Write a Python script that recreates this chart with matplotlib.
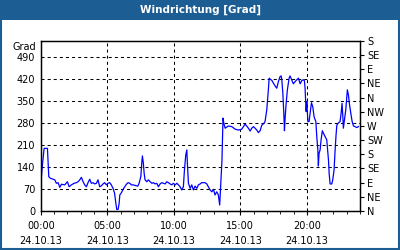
import numpy as np
import matplotlib.pyplot as plt
from matplotlib.patches import Rectangle
from matplotlib.ticker import MultipleLocator

# Messzeit in Stunden (24.10.13) und Windrichtung in Grad
hours = [0.0, 0.12, 0.25, 0.5, 0.6, 0.72, 0.92, 1.05, 1.17, 1.3, 1.43, 1.55, 1.8, 2.0,
         2.13, 2.3, 2.5, 2.68, 2.8, 2.93, 3.05, 3.18, 3.3, 3.43, 3.55, 3.68, 3.8, 3.93,
         4.05, 4.18, 4.3, 4.43, 4.55, 4.68, 4.8, 4.93, 5.05, 5.18, 5.3, 5.43, 5.55, 5.63,
         5.71, 5.81, 5.89, 5.94, 6.06, 6.19, 6.31, 6.44, 6.56, 6.69, 6.81, 6.94,
         7.29, 7.39, 7.52, 7.59, 7.64, 7.71, 7.77, 7.84, 7.97, 8.09, 8.22, 8.35, 8.47,
         8.59, 8.72, 8.84, 8.97, 9.1, 9.22, 9.35, 9.47, 9.59, 9.72, 9.85, 9.97, 10.1,
         10.23, 10.35, 10.47, 10.6, 10.72, 10.8, 10.9, 10.98, 11.02, 11.1, 11.23, 11.35,
         11.47, 11.6, 11.73, 11.85, 11.98, 12.1, 12.35, 12.48, 12.6, 12.73, 12.86, 12.98,
         13.1, 13.23, 13.35, 13.45, 13.62, 13.7, 13.76, 13.86, 14.1, 14.36, 14.61, 14.86,
         15.11, 15.36, 15.61, 15.74, 15.86, 15.99, 16.11, 16.24, 16.36, 16.49, 16.62,
         16.74, 16.86, 16.99, 17.11, 17.17, 17.24, 17.37, 17.49, 17.62, 17.74, 17.87,
         17.99, 18.07, 18.12, 18.2, 18.27, 18.32, 18.37, 18.44, 18.54, 18.67, 18.74,
         18.86, 18.99, 19.12, 19.25, 19.37, 19.5, 19.62, 19.74, 19.82, 19.87, 19.95,
         20.0, 20.08, 20.17, 20.25, 20.35, 20.45, 20.55, 20.68, 20.75, 20.83, 20.87,
         20.92, 21.0, 21.08, 21.17, 21.25, 21.38, 21.5, 21.58, 21.63, 21.68, 21.75,
         21.88, 21.95, 22.05, 22.13, 22.2, 22.26, 22.38, 22.5, 22.58, 22.65, 22.71,
         22.75, 22.83, 22.93, 23.01, 23.05, 23.13, 23.2, 23.31, 23.41, 23.51, 23.63,
         23.76, 23.88]
grad = [86, 146, 199, 199, 109, 104, 101, 99, 88, 90, 75, 85, 83, 93,
        77, 83, 88, 90, 93, 99, 107, 93, 83, 77, 90, 101, 88, 90,
        86, 88, 99, 77, 80, 86, 90, 83, 88, 90, 83, 72, 56, 29,
        5, 5, 24, 51, 58, 69, 77, 85, 90, 88, 83, 83,
        79, 88, 109, 152, 175, 152, 120, 99, 93, 99, 93, 88, 90,
        86, 88, 77, 86, 90, 88, 86, 93, 90, 86, 83, 88, 83,
        88, 83, 77, 67, 77, 130, 178, 194, 152, 88, 72, 83,
        67, 79, 72, 83, 86, 90, 90, 86, 77, 67, 61, 69,
        51, 61, 51, 19, 160, 295, 279, 263, 270, 268, 260, 257,
        260, 276, 263, 254, 263, 268, 263, 257, 249, 255, 273,
        277, 284, 321, 385, 422, 419, 415, 406, 397, 390, 412,
        427, 429, 417, 374, 311, 255, 295, 338, 385, 422, 429,
        417, 404, 411, 417, 422, 404, 414, 417, 414, 390, 316,
        348, 284, 284, 310, 344, 331, 299, 284, 236, 194, 143,
        183, 194, 228, 255, 247, 236, 226, 189, 162, 120, 86,
        86, 99, 130, 194, 242, 273, 280, 284, 310, 342, 299,
        263, 289, 321, 364, 385, 369, 342, 310, 284, 270, 268,
        265, 268]

# Achsenbeschriftungen
x_ticks = [0, 5, 10, 15, 20]
x_labels = ['00:00\n24.10.13', '05:00\n24.10.13', '10:00\n24.10.13',
            '15:00\n24.10.13', '20:00\n24.10.13']
y_ticks = [0, 70, 140, 210, 280, 350, 420, 490]
dir_ticks = [0, 45, 90, 135, 180, 225, 270, 315, 360, 405, 450, 495, 540]
dir_labels = ['N', 'NE', 'E', 'SE', 'S', 'SW', 'W', 'NW', 'N', 'NE', 'E', 'SE', 'S']

blue = '#1c5e94'
plt.rcParams['font.size'] = 7
plt.rcParams['lines.scale_dashes'] = False

fig = plt.figure(figsize=(4, 2.5), dpi=100)
fig.patch.set_facecolor('white')

# Titelleiste und Rahmen
fig.add_artist(Rectangle((0, 0.92), 1, 0.08, transform=fig.transFigure,
                         facecolor=blue, edgecolor='none'))
fig.add_artist(Rectangle((0.0025, 0.004), 0.995, 0.992, transform=fig.transFigure,
                         facecolor='none', edgecolor=blue, linewidth=1.5))
fig.text(0.5, 0.96, 'Windrichtung [Grad]', color='white', fontsize=7.5,
         fontweight='bold', ha='center', va='center')

ax = fig.add_axes([0.102, 0.156, 0.798, 0.68])
ax.plot(hours, grad, color='#0000ff', linewidth=0.9)

ax.set_xlim(0, 24)
ax.set_ylim(0, 540)
ax.set_xticks(x_ticks)
ax.set_xticklabels(x_labels, linespacing=1.6)
ax.xaxis.set_minor_locator(MultipleLocator(1))
ax.set_yticks(y_ticks)
ax.tick_params(axis='x', which='major', length=3, pad=4, direction='out')
ax.tick_params(axis='x', which='minor', length=2, direction='out')
ax.tick_params(axis='y', length=0, pad=4)

ax.grid(True, color='black', linestyle=(0, (2.2, 2.2)), linewidth=0.75)
for s in ax.spines.values():
    s.set_linewidth(0.9)

# Himmelsrichtungen rechts
ax2 = ax.twinx()
ax2.set_ylim(0, 540)
ax2.set_yticks(dir_ticks)
ax2.set_yticklabels(dir_labels)
ax2.tick_params(axis='y', length=3, pad=2)
for s in ax2.spines.values():
    s.set_linewidth(0.9)

fig.text(0.09, 0.812, 'Grad', ha='right', va='center', fontsize=7)

plt.savefig('out.png', dpi=100)
